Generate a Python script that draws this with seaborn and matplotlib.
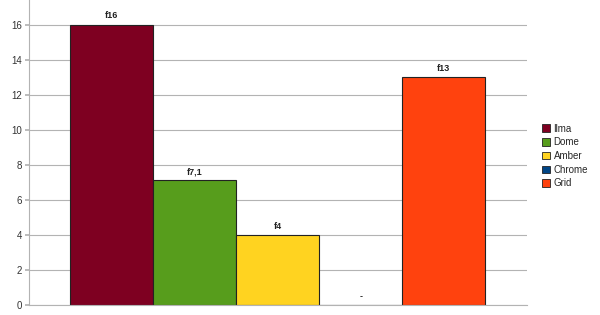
import matplotlib
matplotlib.use("Agg")
import matplotlib.pyplot as plt
import matplotlib.patches as mpatches
import seaborn as sns
import pandas as pd

series = ["Ilma", "Dome", "Amber", "Chrome", "Grid"]
values = [16, 7.1, 4, 0, 13]
labels = ["f16", "f7,1", "f4", "-", "f13"]
colors = ["#7E0021", "#579D1C", "#FFD320", "#004586", "#FF420E"]
yticks = [0, 2, 4, 6, 8, 10, 12, 14, 16]

sns.set_theme(style="white")
plt.rcParams['font.family'] = ['Liberation Sans', 'DejaVu Sans']

df = pd.DataFrame({"cat": ["c"] * len(series), "series": series, "value": values})

fig = plt.figure(figsize=(6, 3.15), dpi=100)
ax = fig.add_axes([0.048, 0.032, 0.83, 0.968])
sns.barplot(data=df, x="cat", y="value", hue="series", hue_order=series,
            palette=colors, width=0.833, dodge=True, saturation=1,
            edgecolor="#222222", linewidth=0.8, ax=ax, legend=False)

for cont, lab in zip(ax.containers, labels):
    ax.bar_label(cont, labels=[lab], padding=3, fontsize=6.5, fontweight="bold", color="#222222")

ax.set_xlim(-0.5, 0.5)
ax.set_ylim(0, 17.4)
ax.set_yticks(yticks)
ax.set_yticklabels([str(t) for t in yticks], fontsize=7, color="#333333")
ax.set_xticks([])
ax.set_xlabel("")
ax.set_ylabel("")
ax.yaxis.grid(True, color="#b3b3b3", linewidth=0.8)
ax.set_axisbelow(True)
ax.tick_params(axis="y", length=3, color="#b3b3b3", pad=2, left=True)
for s in ["top", "right"]:
    ax.spines[s].set_visible(False)
for s in ["left", "bottom"]:
    ax.spines[s].set_color("#b3b3b3")
    ax.spines[s].set_linewidth(0.8)

handles = [mpatches.Patch(facecolor=c, edgecolor="#222222", linewidth=0.6, label=s)
           for s, c in zip(series, colors)]
fig.legend(handles=handles, loc="center left", bbox_to_anchor=(0.895, 0.505),
           frameon=False, fontsize=7, handlelength=0.8, handleheight=0.8,
           handletextpad=0.4, labelspacing=0.38, borderpad=0)

fig.savefig("out.png", dpi=100)
